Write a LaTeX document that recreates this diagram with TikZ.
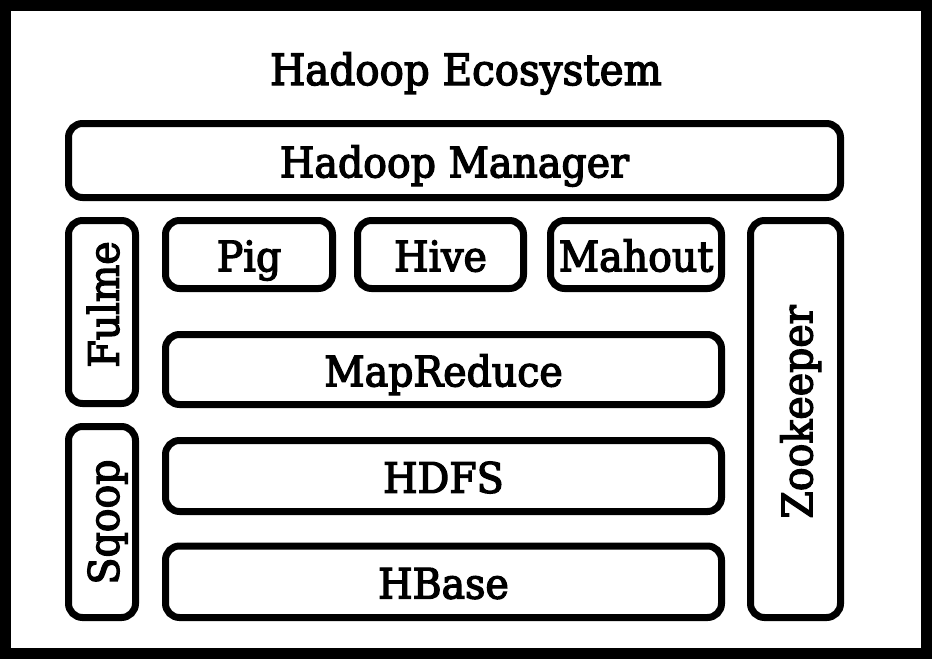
\documentclass[tikz,border=0pt]{standalone}
\usepackage{fontspec}
\setmainfont{DejaVu Serif}[FakeStretch=0.94,FakeBold=3.2]
\begin{document}
\begin{tikzpicture}[x=1pt,y=-1pt,
  box/.style={draw=black, line width=7pt, rounded corners=14pt, inner sep=0pt, outer sep=0pt, fill=white},
  lbl/.style={font=\fontsize{42}{50}\selectfont, text height=33.6pt, text depth=0pt, inner sep=0pt},
  vlbl/.style={lbl, rotate=90}]
\useasboundingbox (0,0) rectangle (932,659);
\fill[black] (0,0) rectangle (932,659);
\fill[white] (11,11) rectangle (921,648);
\node[anchor=base, font=\fontsize{43}{50}\selectfont, inner sep=0pt] (title) at (466,85) {Hadoop Ecosystem};
\node[box, lbl, minimum width=772pt, minimum height=74pt] (manager) at (454.5,160.5) {Hadoop Manager};
\node[box, minimum width=67pt, minimum height=183pt] (fulme) at (102,312) {};
\node[box, minimum width=67pt, minimum height=191pt] (sqoop) at (102,522) {};
\node[box, lbl, minimum width=167pt, minimum height=68pt] (pig) at (249,254.5) {Pig};
\node[box, lbl, minimum width=166pt, minimum height=68pt] (hive) at (440.5,254.5) {Hive};
\node[box, lbl, minimum width=171pt, minimum height=68pt] (mahout) at (636,254.5) {Mahout};
\node[box, lbl, minimum width=556pt, minimum height=70pt] (mapreduce) at (443.5,369.5) {MapReduce};
\node[box, lbl, minimum width=556pt, minimum height=71pt] (hdfs) at (443.5,476) {HDFS};
\node[box, lbl, minimum width=556pt, minimum height=71.5pt] (hbase) at (443.5,581.75) {HBase};
\node[box, minimum width=90pt, minimum height=397pt] (zookeeper) at (795.5,419) {};
\node[vlbl] (fulmetext) at ([yshift=7.5pt]fulme.center) {Fulme};
\node[vlbl] (sqooptext) at (sqoop.center) {Sqoop};
\node[vlbl] (zootext) at ([yshift=7pt]zookeeper.center) {Zookeeper};
\end{tikzpicture}
\end{document}
